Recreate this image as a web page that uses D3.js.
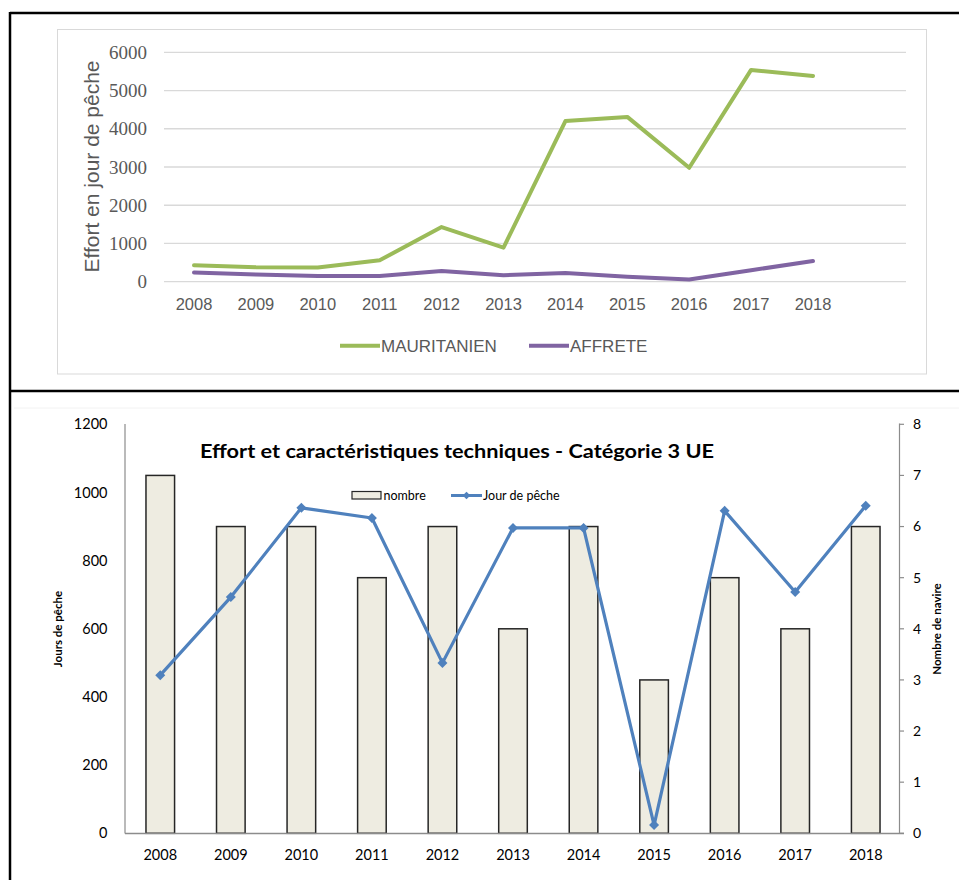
<!DOCTYPE html>
<html><head><meta charset="utf-8">
<script src="https://cdn.jsdelivr.net/npm/d3@7"></script>
<style>
html,body{margin:0;padding:0;background:#fff;}
svg{display:block;}
</style></head>
<body>
<svg id="c" width="959" height="880"></svg>
<script>
// ---------- DATA ----------
const years = ["2008","2009","2010","2011","2012","2013","2014","2015","2016","2017","2018"];
const mauritanien = [430, 380, 370, 560, 1430, 890, 4200, 4310, 2980, 5540, 5380];
const affrete = [240, 190, 150, 150, 280, 170, 230, 130, 60, 300, 540];
const topTicks = [0, 1000, 2000, 3000, 4000, 5000, 6000];

const nombre = [7, 6, 6, 5, 6, 4, 6, 3, 5, 4, 6];
const jourPeche = [464, 693, 955, 925, 500, 896, 896, 24, 946, 708, 961];
const leftTicks = [0, 200, 400, 600, 800, 1000, 1200];
const rightTicks = [0, 1, 2, 3, 4, 5, 6, 7, 8];

const svg = d3.select("#c");

// ---------- PANEL FRAMES ----------
svg.append("line").attr("x1",10).attr("x2",959).attr("y1",13).attr("y2",13).attr("stroke","#000").attr("stroke-width",2.5);
svg.append("line").attr("x1",10).attr("x2",10).attr("y1",12).attr("y2",880).attr("stroke","#000").attr("stroke-width",2.5);
svg.append("line").attr("x1",10).attr("x2",959).attr("y1",391).attr("y2",391).attr("stroke","#000").attr("stroke-width",2.5);

// ---------- TOP CHART ----------
const gTop = svg.append("g");
gTop.append("rect").attr("x",57.5).attr("y",29.5).attr("width",869).attr("height",344.5)
  .attr("fill","none").attr("stroke","#d9d9d9").attr("stroke-width",1);

const xT = d3.scalePoint().domain(years).range([194, 813]);
const yT = d3.scaleLinear().domain([0, 6000]).range([281.7, 52.3]);

gTop.append("g").selectAll("line").data(topTicks).join("line")
  .attr("x1",164).attr("x2",906)
  .attr("y1",d=>yT(d)).attr("y2",d=>yT(d))
  .attr("stroke","#d9d9d9").attr("stroke-width",1.3);

gTop.append("g").selectAll("text").data(topTicks).join("text")
  .attr("x",147).attr("y",d=>yT(d)).attr("dy","0.35em")
  .attr("text-anchor","end")
  .attr("font-family","'Liberation Serif', serif").attr("font-size",19)
  .attr("fill","#595959").text(d=>d);

gTop.append("g").selectAll("text").data(years).join("text")
  .attr("x",d=>xT(d)).attr("y",304).attr("dy","0.35em")
  .attr("text-anchor","middle")
  .attr("font-family","'Liberation Sans', Arial, sans-serif").attr("font-size",16.5)
  .attr("fill","#595959").text(d=>d);

gTop.append("text")
  .attr("transform","translate(99,166.5) rotate(-90)")
  .attr("text-anchor","middle")
  .attr("font-family","'Liberation Sans', Arial, sans-serif").attr("font-size",21)
  .attr("fill","#595959").text("Effort en jour de pêche");

const lineT = (arr)=> d3.line().x((d,i)=>xT(years[i])).y(d=>yT(d))(arr);
gTop.append("path").attr("d",lineT(affrete)).attr("fill","none")
  .attr("stroke","#8064A2").attr("stroke-width",4).attr("stroke-linejoin","round").attr("stroke-linecap","round");
gTop.append("path").attr("d",lineT(mauritanien)).attr("fill","none")
  .attr("stroke","#9BBB59").attr("stroke-width",4).attr("stroke-linejoin","round").attr("stroke-linecap","round");

const legT = [{name:"MAURITANIEN",color:"#9BBB59",x:340},{name:"AFFRETE",color:"#8064A2",x:529}];
const lg = gTop.append("g").selectAll("g").data(legT).join("g");
lg.append("line").attr("x1",d=>d.x).attr("x2",d=>d.x+40).attr("y1",345.7).attr("y2",345.7)
  .attr("stroke",d=>d.color).attr("stroke-width",4);
lg.append("text").attr("x",d=>d.x+41).attr("y",345.7).attr("dy","0.36em")
  .attr("font-family","'Liberation Sans', Arial, sans-serif").attr("font-size",17)
  .attr("fill","#595959").text(d=>d.name);

// ---------- BOTTOM CHART ----------
const gBot = svg.append("g");
gBot.append("line").attr("x1",14).attr("x2",959).attr("y1",408).attr("y2",408).attr("stroke","#f2f2f2").attr("stroke-width",1);

const xC = d3.scaleBand().domain(years).range([125, 901]);
const yL = d3.scaleLinear().domain([0, 1200]).range([833.3, 424.3]);
const yR = d3.scaleLinear().domain([0, 8]).range([833.3, 424.3]);
const fontB = "Lato, 'Open Sans', sans-serif";

gBot.append("g").selectAll("rect").data(nombre).join("rect")
  .attr("x",(d,i)=>xC(years[i]) + xC.bandwidth()/2 - 14.3)
  .attr("width",28.6)
  .attr("y",d=>yR(d)).attr("height",d=>yR(0)-yR(d))
  .attr("fill","#EEECE1").attr("stroke","#262626").attr("stroke-width",1.5);

gBot.append("line").attr("x1",125).attr("x2",125).attr("y1",424).attr("y2",833.5).attr("stroke","#8c8c8c").attr("stroke-width",1.2);
gBot.append("line").attr("x1",125).attr("x2",904).attr("y1",833.5).attr("y2",833.5).attr("stroke","#8c8c8c").attr("stroke-width",1.5);
gBot.append("line").attr("x1",899.5).attr("x2",899.5).attr("y1",423.5).attr("y2",833.5).attr("stroke","#8c8c8c").attr("stroke-width",1.2);
gBot.append("g").selectAll("line").data(rightTicks).join("line")
  .attr("x1",899.5).attr("x2",904).attr("y1",d=>yR(d)).attr("y2",d=>yR(d))
  .attr("stroke","#8c8c8c").attr("stroke-width",1.2);

gBot.append("g").selectAll("text").data(leftTicks).join("text")
  .attr("x",107.5).attr("y",d=>yL(d)).attr("dy","0.35em").attr("text-anchor","end")
  .attr("font-family",fontB).attr("font-size",14.5).attr("fill","#000").text(d=>d);
gBot.append("g").selectAll("text").data(rightTicks).join("text")
  .attr("x",913).attr("y",d=>yR(d)).attr("dy","0.35em").attr("text-anchor","start")
  .attr("font-family",fontB).attr("font-size",14).attr("fill","#000").text(d=>d);
gBot.append("g").selectAll("text").data(years).join("text")
  .attr("x",d=>xC(d)+xC.bandwidth()/2).attr("y",854.5).attr("dy","0.35em").attr("text-anchor","middle")
  .attr("font-family",fontB).attr("font-size",14.5).attr("fill","#000").text(d=>d);

gBot.append("text").attr("transform","translate(58,629) rotate(-90)").attr("dy","0.35em")
  .attr("text-anchor","middle").attr("font-family",fontB).attr("font-weight","bold")
  .attr("font-size",11.5).attr("fill","#000").text("Jours de pêche");
gBot.append("text").attr("transform","translate(937,629) rotate(-90)").attr("dy","0.35em")
  .attr("text-anchor","middle").attr("font-family",fontB).attr("font-weight","bold")
  .attr("font-size",11.5).attr("fill","#000").text("Nombre de navire");

const cx = (i)=> xC(years[i]) + xC.bandwidth()/2;
gBot.append("path").attr("d", d3.line().x((d,i)=>cx(i)).y(d=>yL(d))(jourPeche))
  .attr("fill","none").attr("stroke","#4F81BD").attr("stroke-width",3.2).attr("stroke-linejoin","round");
const diamond = d3.symbol().type(d3.symbolSquare).size(50);
gBot.append("g").selectAll("path").data(jourPeche).join("path")
  .attr("d",diamond)
  .attr("transform",(d,i)=>`translate(${cx(i)},${yL(d)}) rotate(45)`)
  .attr("fill","#4F81BD");

gBot.append("text").attr("x",200).attr("y",451).attr("dy","0.35em")
  .attr("font-family",fontB).attr("font-weight","bold").attr("font-size",19.5)
  .attr("textLength",514).attr("lengthAdjust","spacingAndGlyphs")
  .attr("fill","#000").text("Effort et caractéristiques techniques - Catégorie 3 UE");

gBot.append("rect").attr("x",352).attr("y",491.5).attr("width",29).attr("height",7.5)
  .attr("fill","#EEECE1").attr("stroke","#262626").attr("stroke-width",1.2);
gBot.append("text").attr("x",383.5).attr("y",495.5).attr("dy","0.35em")
  .attr("font-family",fontB).attr("font-size",12.5).attr("fill","#000").text("nombre");
gBot.append("line").attr("x1",451).attr("x2",482).attr("y1",495.5).attr("y2",495.5)
  .attr("stroke","#4F81BD").attr("stroke-width",3);
gBot.append("path").attr("d",d3.symbol().type(d3.symbolSquare).size(30))
  .attr("transform","translate(466.5,495.5) rotate(45)").attr("fill","#4F81BD");
gBot.append("text").attr("x",483).attr("y",495.5).attr("dy","0.35em")
  .attr("font-family",fontB).attr("font-size",12.5).attr("fill","#000").text("Jour de pêche");
</script>
</body></html>
